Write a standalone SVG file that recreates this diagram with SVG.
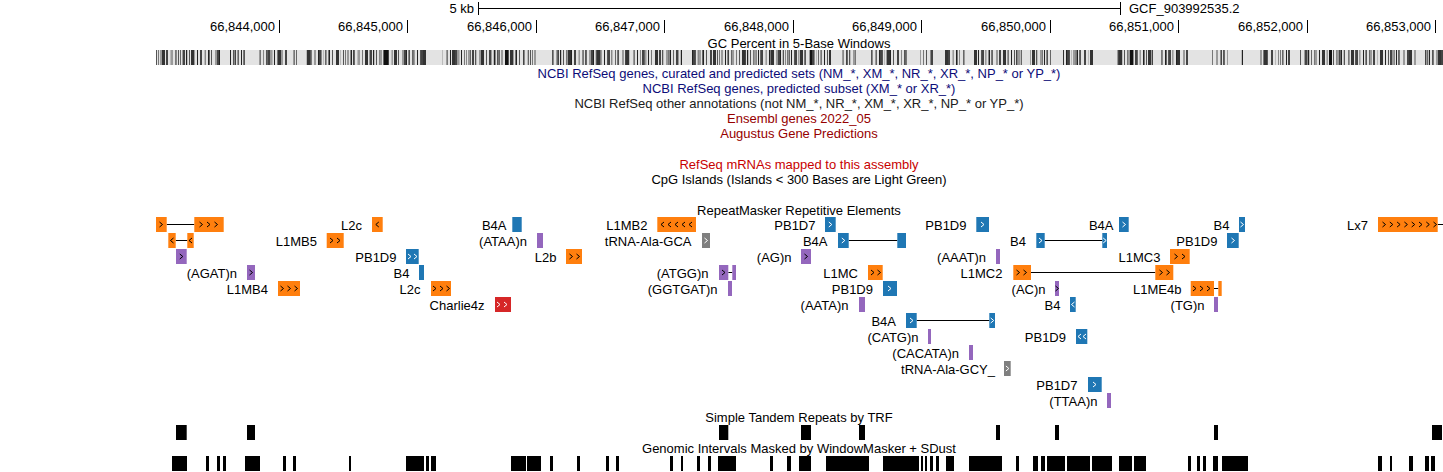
<svg xmlns="http://www.w3.org/2000/svg" xmlns:xlink="http://www.w3.org/1999/xlink" width="1443" height="472" viewBox="0 0 1443 472">
<style>
text{font-family:"Liberation Sans",Arial,Helvetica,sans-serif;font-size:13px;fill:#000}
.c{text-anchor:middle}
.e{text-anchor:end}
.nav{fill:#0c0c78}
.oth{fill:#202020}
.dr{fill:#960000}
.rd{fill:#c80000}
.or{fill:#ff7f0e}
.bl{fill:#1f77b4}
.pu{fill:#9467bd}
.re{fill:#d62728}
.gr{fill:#7f7f7f}
.cw{stroke:#fff;fill:none;stroke-width:1}
.ck{stroke:#000;fill:none;stroke-width:1}
.ln{stroke:#000;stroke-width:1}
.tk{stroke:#000;stroke-width:1}
.bk{fill:#000}
</style>
<defs>
<path id="r" d="M-1.5,-2.5 L1.5,0 L-1.5,2.5"/>
<path id="l" d="M1.5,-2.5 L-1.5,0 L1.5,2.5"/>
<pattern id="pA" patternUnits="userSpaceOnUse" x="156" y="50" width="11" height="15">
<rect x="0" y="0" width="1" height="15" fill="#555"/><rect x="4" y="0" width="2" height="15" fill="#9a9a9a"/><rect x="8" y="0" width="1" height="15" fill="#222"/>
</pattern>
<pattern id="pB" patternUnits="userSpaceOnUse" x="156" y="50" width="17" height="15">
<rect x="2" y="0" width="1" height="15" fill="#777"/><rect x="10" y="0" width="2" height="15" fill="#444"/><rect x="14" y="0" width="1" height="15" fill="#bbb"/>
</pattern>
<pattern id="pC" patternUnits="userSpaceOnUse" x="156" y="50" width="29" height="15">
<rect x="6" y="0" width="3" height="15" fill="#333"/><rect x="20" y="0" width="1" height="15" fill="#888"/><rect x="24" y="0" width="1" height="15" fill="#666"/>
</pattern>
</defs>
<rect width="1443" height="472" fill="#fff"/>

<g id="ruler">
<line class="tk" x1="478.5" y1="2" x2="478.5" y2="15"/>
<line class="tk" x1="478.5" y1="8.5" x2="1120.5" y2="8.5"/>
<line class="tk" x1="1120.5" y1="2" x2="1120.5" y2="15"/>
<text class="e" x="474" y="13">5 kb</text>
<text x="1129" y="13">GCF_903992535.2</text>
<line class="tk" x1="279.5" y1="20" x2="279.5" y2="33"/>
<line class="tk" x1="407.5" y1="20" x2="407.5" y2="33"/>
<line class="tk" x1="536.5" y1="20" x2="536.5" y2="33"/>
<line class="tk" x1="664.5" y1="20" x2="664.5" y2="33"/>
<line class="tk" x1="793.5" y1="20" x2="793.5" y2="33"/>
<line class="tk" x1="921.5" y1="20" x2="921.5" y2="33"/>
<line class="tk" x1="1050.5" y1="20" x2="1050.5" y2="33"/>
<line class="tk" x1="1178.5" y1="20" x2="1178.5" y2="33"/>
<line class="tk" x1="1307.5" y1="20" x2="1307.5" y2="33"/>
<line class="tk" x1="1435.5" y1="20" x2="1435.5" y2="33"/>
<text class="e" x="275" y="31">66,844,000</text>
<text class="e" x="403" y="31">66,845,000</text>
<text class="e" x="532" y="31">66,846,000</text>
<text class="e" x="660" y="31">66,847,000</text>
<text class="e" x="789" y="31">66,848,000</text>
<text class="e" x="917" y="31">66,849,000</text>
<text class="e" x="1046" y="31">66,850,000</text>
<text class="e" x="1174" y="31">66,851,000</text>
<text class="e" x="1303" y="31">66,852,000</text>
<text class="e" x="1431" y="31">66,853,000</text>
</g>

<g id="gc-track">
<text class="c" x="799" y="47.5">GC Percent in 5-Base Windows</text>
<rect x="156" y="50" width="1287" height="15" fill="#e3e3e3"/>
<rect x="156" y="50" width="1287" height="15" fill="url(#pA)"/>
<rect x="156" y="50" width="1287" height="15" fill="url(#pB)"/>
<rect x="156" y="50" width="1287" height="15" fill="url(#pC)"/>
<g fill="#e3e3e3">
<rect x="220" y="50" width="8" height="15"/>
<rect x="246" y="50" width="13" height="15"/>
<rect x="288" y="50" width="5" height="15"/>
<rect x="297" y="50" width="8" height="15"/>
<rect x="427" y="50" width="15" height="15"/>
<rect x="537" y="50" width="15" height="15"/>
<rect x="684" y="50" width="8" height="15"/>
<rect x="831" y="50" width="11" height="15"/>
<rect x="857" y="50" width="13" height="15"/>
<rect x="907" y="50" width="13" height="15"/>
<rect x="933" y="50" width="10" height="15"/>
<rect x="965" y="50" width="8" height="15"/>
<rect x="1022" y="50" width="8" height="15"/>
<rect x="1051" y="50" width="5" height="15"/>
<rect x="1058" y="50" width="5" height="15"/>
<rect x="1093" y="50" width="22" height="15"/>
<rect x="1153" y="50" width="7" height="15"/>
<rect x="1190" y="50" width="20" height="15"/>
<rect x="1228" y="50" width="12" height="15"/>
<rect x="1243" y="50" width="17" height="15"/>
<rect x="1291" y="50" width="9" height="15"/>
<rect x="1416" y="50" width="9" height="15"/>
</g>
<g fill="#111">
<rect x="384" y="50" width="4" height="15"/>
<rect x="505" y="50" width="3" height="15"/>
<rect x="810" y="50" width="2" height="15"/>
<rect x="1130" y="50" width="3" height="15"/>
<rect x="1329" y="50" width="3" height="15"/>
</g>
</g>

<g id="track-titles">
<text class="c nav" x="799" y="78">NCBI RefSeq genes, curated and predicted sets (NM_*, XM_*, NR_*, XR_*, NP_* or YP_*)</text>
<text class="c nav" x="799" y="93">NCBI RefSeq genes, predicted subset (XM_* or XR_*)</text>
<text class="c oth" x="799" y="108">NCBI RefSeq other annotations (not NM_*, NR_*, XM_*, XR_*, NP_* or YP_*)</text>
<text class="c dr" x="799" y="123">Ensembl genes 2022_05</text>
<text class="c dr" x="799" y="138">Augustus Gene Predictions</text>
<text class="c rd" x="799" y="169">RefSeq mRNAs mapped to this assembly</text>
<text class="c" x="799" y="184">CpG Islands (Islands &lt; 300 Bases are Light Green)</text>
<text class="c" x="799" y="214.5">RepeatMasker Repetitive Elements</text>
<text class="c" x="799" y="422">Simple Tandem Repeats by TRF</text>
<text class="c" x="799" y="453">Genomic Intervals Masked by WindowMasker + SDust</text>
</g>

<g id="connectors">
<line class="ln" x1="166.7" y1="224.5" x2="194.3" y2="224.5"/>
<line class="ln" x1="1437.7" y1="224.5" x2="1443" y2="224.5"/>
<line class="ln" x1="175.7" y1="240.5" x2="187.3" y2="240.5"/>
<line class="ln" x1="848.7" y1="240.5" x2="897.3" y2="240.5"/>
<line class="ln" x1="1044.7" y1="240.5" x2="1102.3" y2="240.5"/>
<line class="ln" x1="728.3" y1="272.5" x2="732.3" y2="272.5"/>
<line class="ln" x1="1031" y1="272.5" x2="1155.3" y2="272.5"/>
<line class="ln" x1="1214" y1="288.5" x2="1218.3" y2="288.5"/>
<line class="ln" x1="916.7" y1="320.5" x2="989.3" y2="320.5"/>
</g>

<g id="rm-row1">
<g id="rep-first"><rect class="or" x="156" y="217" width="10.7" height="15"/><use href="#r" class="ck" x="161" y="224.5"/><rect class="or" x="194.3" y="217" width="29.4" height="15"/><use href="#r" class="ck" x="201" y="224.5"/><use href="#r" class="ck" x="208.5" y="224.5"/><use href="#r" class="ck" x="216" y="224.5"/></g>
<g id="rep-L2c-1"><text class="e" x="362" y="229.5">L2c</text><rect class="or" x="372" y="217" width="10.7" height="15"/><use href="#l" class="ck" x="377.3" y="224.5"/></g>
<g id="rep-B4A-1"><text class="e" x="506.5" y="229.5">B4A</text><rect class="bl" x="512.3" y="217" width="9.4" height="15"/></g>
<g id="rep-L1MB2"><text class="e" x="647.5" y="229.5">L1MB2</text><rect class="or" x="657.3" y="217" width="38.7" height="15"/><use href="#l" class="ck" x="662.5" y="224.5"/><use href="#l" class="ck" x="669.5" y="224.5"/><use href="#l" class="ck" x="676.5" y="224.5"/><use href="#l" class="ck" x="683.5" y="224.5"/><use href="#l" class="ck" x="690.5" y="224.5"/></g>
<g id="rep-PB1D7-1"><text class="e" x="815.5" y="229.5">PB1D7</text><rect class="bl" x="825" y="217" width="10.7" height="15"/><use href="#r" class="cw" x="830.3" y="224.5"/></g>
<g id="rep-PB1D9-1"><text class="e" x="966.5" y="229.5">PB1D9</text><rect class="bl" x="976.3" y="217" width="12.7" height="15"/><use href="#r" class="cw" x="982.5" y="224.5"/></g>
<g id="rep-B4A-2"><text class="e" x="1113.5" y="229.5">B4A</text><rect class="bl" x="1119" y="217" width="9.7" height="15"/><use href="#r" class="cw" x="1124" y="224.5"/></g>
<g id="rep-B4-1"><text class="e" x="1229.5" y="229.5">B4</text><rect class="bl" x="1239" y="217" width="6" height="15"/><use href="#r" class="cw" x="1242" y="224.5"/></g>
<g id="rep-Lx7"><text class="e" x="1368" y="229.5">Lx7</text><rect class="or" x="1378" y="217" width="59.7" height="15"/><use href="#r" class="ck" x="1384" y="224.5"/><use href="#r" class="ck" x="1391.3" y="224.5"/><use href="#r" class="ck" x="1398.6" y="224.5"/><use href="#r" class="ck" x="1405.9" y="224.5"/><use href="#r" class="ck" x="1413.2" y="224.5"/><use href="#r" class="ck" x="1420.5" y="224.5"/><use href="#r" class="ck" x="1427.8" y="224.5"/><use href="#r" class="ck" x="1435" y="224.5"/></g>
</g>

<g id="rm-row2">
<g id="rep-unl-2"><rect class="or" x="168.3" y="233" width="7.4" height="15"/><use href="#l" class="ck" x="172" y="240.5"/><rect class="or" x="187.3" y="233" width="6.4" height="15"/><use href="#l" class="ck" x="190.5" y="240.5"/></g>
<g id="rep-L1MB5"><text class="e" x="317" y="245.5">L1MB5</text><rect class="or" x="326.7" y="233" width="17" height="15"/><use href="#r" class="ck" x="331.5" y="240.5"/><use href="#r" class="ck" x="338.5" y="240.5"/></g>
<g id="rep-ATAA"><text class="e" x="527" y="245.5">(ATAA)n</text><rect class="pu" x="537" y="233" width="6" height="15"/></g>
<g id="rep-tRNA-GCA"><text class="e" x="691.5" y="245.5">tRNA-Ala-GCA</text><rect class="gr" x="702" y="233" width="8" height="15"/><use href="#r" class="cw" x="706" y="240.5"/></g>
<g id="rep-B4A-3"><text class="e" x="827.5" y="245.5">B4A</text><rect class="bl" x="838" y="233" width="10.7" height="15"/><use href="#r" class="cw" x="843.3" y="240.5"/><rect class="bl" x="897.3" y="233" width="8.7" height="15"/></g>
<g id="rep-B4-2"><text class="e" x="1026" y="245.5">B4</text><rect class="bl" x="1036.3" y="233" width="8.4" height="15"/><use href="#r" class="cw" x="1040.5" y="240.5"/><rect class="bl" x="1102.3" y="233" width="4.7" height="15"/><use href="#r" class="cw" x="1104.7" y="240.5"/></g>
<g id="rep-PB1D9-2"><text class="e" x="1217.5" y="245.5">PB1D9</text><rect class="bl" x="1227" y="233" width="11.7" height="15"/><use href="#r" class="cw" x="1233" y="240.5"/></g>
</g>

<g id="rm-row3">
<g id="rep-unl-3"><rect class="pu" x="176" y="249" width="10.7" height="15"/><use href="#r" class="ck" x="181.3" y="256.5"/></g>
<g id="rep-PB1D9-3"><text class="e" x="396.5" y="261.5">PB1D9</text><rect class="bl" x="406" y="249" width="12.7" height="15"/><use href="#r" class="cw" x="409.5" y="256.5"/><use href="#r" class="cw" x="415.5" y="256.5"/></g>
<g id="rep-L2b"><text class="e" x="556.5" y="261.5">L2b</text><rect class="or" x="566" y="249" width="16" height="15"/><use href="#r" class="ck" x="571" y="256.5"/><use href="#r" class="ck" x="578" y="256.5"/></g>
<g id="rep-AG"><text class="e" x="791.5" y="261.5">(AG)n</text><rect class="pu" x="801" y="249" width="10" height="15"/><use href="#r" class="ck" x="806" y="256.5"/></g>
<g id="rep-AAAT"><text class="e" x="986" y="261.5">(AAAT)n</text><rect class="pu" x="996" y="249" width="4" height="15"/></g>
<g id="rep-L1MC3"><text class="e" x="1160.5" y="261.5">L1MC3</text><rect class="or" x="1170" y="249" width="19.7" height="15"/><use href="#r" class="ck" x="1176" y="256.5"/><use href="#r" class="ck" x="1183.5" y="256.5"/></g>
</g>

<g id="rm-row4">
<g id="rep-AGAT"><text class="e" x="237" y="277.5">(AGAT)n</text><rect class="pu" x="247" y="265" width="8" height="15"/><use href="#r" class="ck" x="251" y="272.5"/></g>
<g id="rep-B4-3"><text class="e" x="409.5" y="277.5">B4</text><rect class="bl" x="419" y="265" width="5" height="15"/></g>
<g id="rep-ATGG"><text class="e" x="708.5" y="277.5">(ATGG)n</text><rect class="pu" x="719" y="265" width="9.3" height="15"/><use href="#r" class="ck" x="723.5" y="272.5"/><rect class="pu" x="732.3" y="265" width="3.7" height="15"/></g>
<g id="rep-L1MC"><text class="e" x="858" y="277.5">L1MC</text><rect class="or" x="868" y="265" width="14.7" height="15"/><use href="#r" class="ck" x="872.5" y="272.5"/><use href="#r" class="ck" x="879" y="272.5"/></g>
<g id="rep-L1MC2"><text class="e" x="1002.5" y="277.5">L1MC2</text><rect class="or" x="1013.3" y="265" width="17.7" height="15"/><use href="#r" class="ck" x="1018" y="272.5"/><use href="#r" class="ck" x="1025" y="272.5"/><rect class="or" x="1155.3" y="265" width="18" height="15"/><use href="#r" class="ck" x="1161" y="272.5"/><use href="#r" class="ck" x="1168" y="272.5"/></g>
</g>

<g id="rm-row5">
<g id="rep-L1MB4"><text class="e" x="268" y="293.5">L1MB4</text><rect class="or" x="278" y="281" width="22" height="15"/><use href="#r" class="ck" x="282" y="288.5"/><use href="#r" class="ck" x="289" y="288.5"/><use href="#r" class="ck" x="296" y="288.5"/></g>
<g id="rep-L2c-2"><text class="e" x="420.5" y="293.5">L2c</text><rect class="or" x="431" y="281" width="20" height="15"/><use href="#r" class="ck" x="434.5" y="288.5"/><use href="#r" class="ck" x="441.5" y="288.5"/><use href="#r" class="ck" x="448" y="288.5"/></g>
<g id="rep-GGTGAT"><text class="e" x="717.5" y="293.5">(GGTGAT)n</text><rect class="pu" x="728" y="281" width="4" height="15"/></g>
<g id="rep-PB1D9-4"><text class="e" x="873" y="293.5">PB1D9</text><rect class="bl" x="883" y="281" width="14" height="15"/><use href="#r" class="cw" x="889.5" y="288.5"/></g>
<g id="rep-AC"><text class="e" x="1045.5" y="293.5">(AC)n</text><rect class="pu" x="1055" y="281" width="4" height="15"/><use href="#r" class="ck" x="1057" y="288.5"/></g>
<g id="rep-L1ME4b"><text class="e" x="1181.5" y="293.5">L1ME4b</text><rect class="or" x="1190.7" y="281" width="23.3" height="15"/><use href="#r" class="ck" x="1194.5" y="288.5"/><use href="#r" class="ck" x="1201.5" y="288.5"/><use href="#r" class="ck" x="1208.5" y="288.5"/><rect class="or" x="1218.3" y="281" width="3.4" height="15"/></g>
</g>

<g id="rm-row6">
<g id="rep-Charlie4z"><text class="e" x="484.5" y="309.5">Charlie4z</text><rect class="re" x="495" y="297" width="16" height="15"/><use href="#r" class="cw" x="498.5" y="304.5"/><use href="#r" class="cw" x="505.5" y="304.5"/></g>
<g id="rep-AATA"><text class="e" x="848.5" y="309.5">(AATA)n</text><rect class="pu" x="859" y="297" width="6" height="15"/></g>
<g id="rep-B4-4"><text class="e" x="1060.5" y="309.5">B4</text><rect class="bl" x="1070" y="297" width="5.7" height="15"/><use href="#l" class="cw" x="1073" y="304.5"/></g>
<g id="rep-TG"><text class="e" x="1204.5" y="309.5">(TG)n</text><rect class="pu" x="1214" y="297" width="4" height="15"/></g>
</g>

<g id="rm-row7">
<g id="rep-B4A-4"><text class="e" x="896" y="325.5">B4A</text><rect class="bl" x="906" y="313" width="10.7" height="15"/><use href="#r" class="cw" x="911.5" y="320.5"/><rect class="bl" x="989.3" y="313" width="5.7" height="15"/><use href="#r" class="cw" x="992.2" y="320.5"/></g>
</g>

<g id="rm-row8">
<g id="rep-CATG"><text class="e" x="918.5" y="341.5">(CATG)n</text><rect class="pu" x="928" y="329" width="3" height="15"/></g>
<g id="rep-PB1D9-5"><text class="e" x="1066" y="341.5">PB1D9</text><rect class="bl" x="1076" y="329" width="11.3" height="15"/><use href="#l" class="cw" x="1079.5" y="336.5"/><use href="#l" class="cw" x="1084.5" y="336.5"/></g>
</g>

<g id="rm-row9">
<g id="rep-CACATA"><text class="e" x="959" y="357.5">(CACATA)n</text><rect class="pu" x="969" y="345" width="4" height="15"/></g>
</g>

<g id="rm-row10">
<g id="rep-tRNA-GCY"><text class="e" x="995" y="373.5">tRNA-Ala-GCY_</text><rect class="gr" x="1004" y="361" width="6.7" height="15"/><use href="#r" class="cw" x="1007.4" y="368.5"/></g>
</g>

<g id="rm-row11">
<g id="rep-PB1D7-2"><text class="e" x="1077.5" y="389.5">PB1D7</text><rect class="bl" x="1088" y="377" width="13.7" height="15"/><use href="#r" class="cw" x="1094.5" y="384.5"/></g>
</g>

<g id="rm-row12">
<g id="rep-TTAA"><text class="e" x="1097.5" y="405.5">(TTAA)n</text><rect class="pu" x="1107" y="393" width="4" height="15"/></g>
</g>

<g id="trf-track" class="bk">
<rect x="176" y="425" width="10.7" height="15"/>
<rect x="247" y="425" width="8" height="15"/>
<rect x="719" y="425" width="9.3" height="15"/>
<rect x="801" y="425" width="10" height="15"/>
<rect x="859" y="425" width="6" height="15"/>
<rect x="996" y="425" width="4" height="15"/>
<rect x="1055" y="425" width="4" height="15"/>
<rect x="1214" y="425" width="4" height="15"/>
<rect x="1432" y="425" width="10" height="15"/>
</g>

<g id="windowmasker-track" class="bk">
<rect x="172" y="456" width="15" height="15"/>
<rect x="206" y="456" width="3" height="15"/>
<rect x="217" y="456" width="3" height="15"/>
<rect x="223" y="456" width="3" height="15"/>
<rect x="245" y="456" width="15" height="15"/>
<rect x="283" y="456" width="3" height="15"/>
<rect x="293" y="456" width="3" height="15"/>
<rect x="349" y="456" width="2" height="15"/>
<rect x="406" y="456" width="18" height="15"/>
<rect x="426" y="456" width="3" height="15"/>
<rect x="431" y="456" width="5" height="15"/>
<rect x="511" y="456" width="15" height="15"/>
<rect x="527" y="456" width="14" height="15"/>
<rect x="550" y="456" width="3" height="15"/>
<rect x="577" y="456" width="3" height="15"/>
<rect x="606" y="456" width="3" height="15"/>
<rect x="616" y="456" width="3" height="15"/>
<rect x="670" y="456" width="3" height="15"/>
<rect x="681" y="456" width="2" height="15"/>
<rect x="697" y="456" width="3" height="15"/>
<rect x="708" y="456" width="3" height="15"/>
<rect x="718" y="456" width="18" height="15"/>
<rect x="770" y="456" width="3" height="15"/>
<rect x="787" y="456" width="4" height="15"/>
<rect x="799" y="456" width="12" height="15"/>
<rect x="826" y="456" width="43" height="15"/>
<rect x="883" y="456" width="36" height="15"/>
<rect x="921" y="456" width="2" height="15"/>
<rect x="925" y="456" width="2" height="15"/>
<rect x="930" y="456" width="3" height="15"/>
<rect x="936" y="456" width="3" height="15"/>
<rect x="946" y="456" width="8" height="15"/>
<rect x="969" y="456" width="33" height="15"/>
<rect x="1016" y="456" width="3" height="15"/>
<rect x="1033" y="456" width="5" height="15"/>
<rect x="1041" y="456" width="4" height="15"/>
<rect x="1047" y="456" width="18" height="15"/>
<rect x="1067" y="456" width="23" height="15"/>
<rect x="1092" y="456" width="20" height="15"/>
<rect x="1119" y="456" width="13" height="15"/>
<rect x="1134" y="456" width="12" height="15"/>
<rect x="1188" y="456" width="3" height="15"/>
<rect x="1197" y="456" width="3" height="15"/>
<rect x="1203" y="456" width="3" height="15"/>
<rect x="1213" y="456" width="5" height="15"/>
<rect x="1222" y="456" width="26" height="15"/>
<rect x="1378" y="456" width="4" height="15"/>
<rect x="1390" y="456" width="2" height="15"/>
<rect x="1409" y="456" width="4" height="15"/>
<rect x="1425" y="456" width="4" height="15"/>
<rect x="1431" y="456" width="4" height="15"/>
</g>
</svg>
